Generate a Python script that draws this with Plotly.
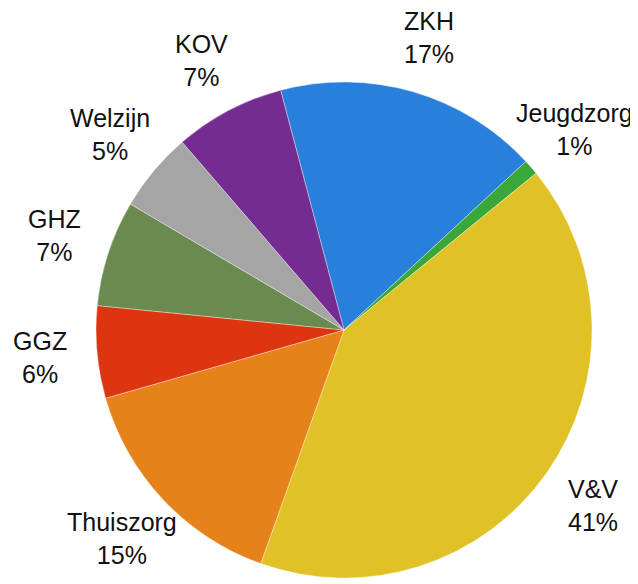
import math
import plotly.graph_objects as go

labels = ["ZKH", "Jeugdzorg", "V&V", "Thuiszorg", "GGZ", "GHZ", "Welzijn", "KOV"]
values = [17.2, 1.0, 41.3, 15.1, 6.0, 6.9, 5.2, 7.2]
colors = ["#2880dc", "#3aa838", "#e0c226", "#e5821a", "#dc3510", "#6a8a50", "#a5a5a5", "#742c90"]

W, H = 630, 576
CX, CY, R = 336, 322, 248          # pie centre and radius in figure pixels
ROT = -14.8                        # start angle of first slice (deg, clockwise from 12 o'clock)
LABEL_R = 305                      # distance of label centres from pie centre

fig = go.Figure(go.Pie(
    labels=labels,
    values=values,
    sort=False,
    direction="clockwise",
    rotation=ROT,
    marker=dict(colors=colors, line=dict(color="rgba(255,255,255,0.6)", width=0.6)),
    textinfo="none",
    domain=dict(x=[(CX - R) / W, (CX + R) / W], y=[1 - (CY + R) / H, 1 - (CY - R) / H]),
    showlegend=False,
    hoverinfo="label+percent",
    automargin=False,
))

total = sum(values)
cum = 0.0
for lab, v in zip(labels, values):
    mid = ROT + (cum + v / 2) / total * 360.0
    cum += v
    a = math.radians(mid)
    px = CX + LABEL_R * math.sin(a)
    py = CY - LABEL_R * math.cos(a)
    fig.add_annotation(
        x=px / W, y=1 - py / H, xref="paper", yref="paper",
        text=f"{lab}<br>{round(v / total * 100)}%",
        showarrow=False, xanchor="center", yanchor="middle", align="center",
        font=dict(family="Liberation Sans, Arial, Helvetica, sans-serif", size=25, color="#111111"),
    )

fig.update_layout(
    width=W, height=H,
    margin=dict(l=0, r=0, t=0, b=0),
    paper_bgcolor="white",
    plot_bgcolor="white",
)

fig.write_html("out.html")
